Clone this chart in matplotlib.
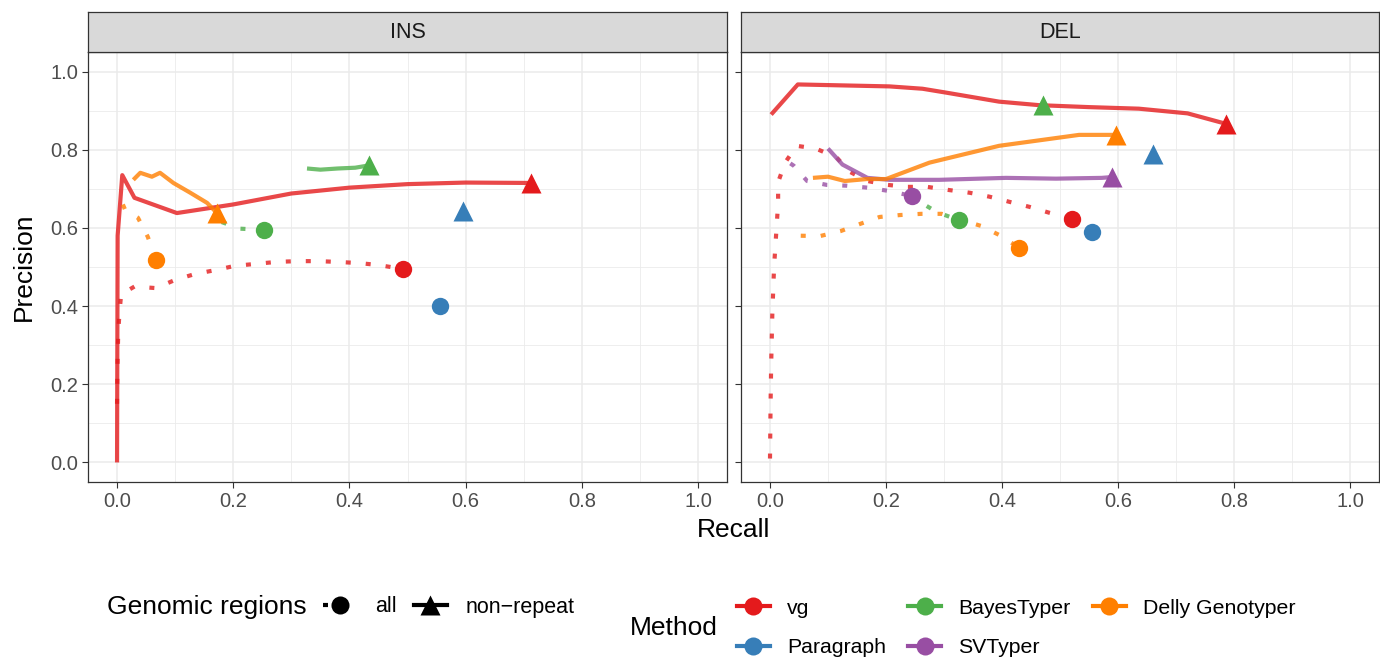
import numpy as np
import matplotlib
matplotlib.use('Agg')
import matplotlib.pyplot as plt
from matplotlib.lines import Line2D

plt.rcParams['font.family'] = ['Liberation Sans', 'DejaVu Sans']

# colours (Set1)
methods = ['vg', 'Paragraph', 'BayesTyper', 'SVTyper', 'Delly Genotyper']
colors = ['#E41A1C', '#377EB8', '#4DAF4A', '#984EA3', '#FF7F00']

# ---- INS panel ----
ins_vg_all_x = [0.0, 0.0005, 0.001, 0.002, 0.004, 0.007, 0.03, 0.067, 0.1, 0.134, 0.169, 0.203, 0.239, 0.274, 0.31, 0.346, 0.38, 0.417, 0.45, 0.492]
ins_vg_all_y = [0.15, 0.22, 0.27, 0.33, 0.38, 0.43, 0.45, 0.446, 0.467, 0.482, 0.492, 0.503, 0.508, 0.513, 0.515, 0.515, 0.513, 0.51, 0.505, 0.495]
ins_vg_nr_x = [0.0, 0.0005, 0.001, 0.009, 0.03, 0.103, 0.2, 0.3, 0.4, 0.5, 0.6, 0.712]
ins_vg_nr_y = [0.0, 0.3, 0.58, 0.735, 0.677, 0.638, 0.66, 0.688, 0.703, 0.712, 0.716, 0.715]
ins_para_all_x = [0.556]
ins_para_all_y = [0.40]
ins_para_nr_x = [0.595]
ins_para_nr_y = [0.642]
ins_bt_all_x = [0.18, 0.212, 0.253]
ins_bt_all_y = [0.615, 0.598, 0.595]
ins_bt_nr_x = [0.327, 0.35, 0.38, 0.41, 0.434]
ins_bt_nr_y = [0.752, 0.749, 0.752, 0.754, 0.76]
ins_delly_all_x = [0.01, 0.014, 0.036, 0.053, 0.067]
ins_delly_all_y = [0.66, 0.646, 0.626, 0.577, 0.518]
ins_delly_nr_x = [0.028, 0.04, 0.06, 0.074, 0.097, 0.126, 0.155, 0.172]
ins_delly_nr_y = [0.723, 0.741, 0.731, 0.741, 0.715, 0.69, 0.664, 0.638]

# ---- DEL panel ----
del_vg_all_x = [0.0, 0.001, 0.002, 0.004, 0.007, 0.014, 0.014, 0.026, 0.046, 0.079, 0.115, 0.137, 0.168, 0.203, 0.237, 0.271, 0.308, 0.344, 0.378, 0.412, 0.447, 0.481, 0.521]
del_vg_all_y = [0.01, 0.15, 0.25, 0.38, 0.5, 0.664, 0.717, 0.767, 0.81, 0.803, 0.78, 0.744, 0.72, 0.71, 0.705, 0.705, 0.697, 0.69, 0.68, 0.667, 0.654, 0.639, 0.623]
del_vg_nr_x = [0.002, 0.048, 0.206, 0.263, 0.304, 0.395, 0.464, 0.55, 0.636, 0.72, 0.787]
del_vg_nr_y = [0.89, 0.967, 0.962, 0.956, 0.946, 0.923, 0.914, 0.909, 0.905, 0.893, 0.866]
del_para_all_x = [0.555]
del_para_all_y = [0.59]
del_para_nr_x = [0.66]
del_para_nr_y = [0.79]
del_bt_all_x = [0.245, 0.258, 0.287, 0.325]
del_bt_all_y = [0.69, 0.667, 0.641, 0.62]
del_bt_nr_x = [0.471]
del_bt_nr_y = [0.915]
del_sv_all_x = [0.035, 0.041, 0.064, 0.098, 0.132, 0.168, 0.203, 0.244]
del_sv_all_y = [0.765, 0.759, 0.72, 0.71, 0.708, 0.703, 0.695, 0.682]
del_sv_nr_x = [0.1, 0.125, 0.168, 0.206, 0.292, 0.407, 0.493, 0.572, 0.589]
del_sv_nr_y = [0.803, 0.762, 0.728, 0.723, 0.723, 0.728, 0.726, 0.728, 0.73]
del_delly_all_x = [0.053, 0.086, 0.122, 0.155, 0.189, 0.225, 0.261, 0.296, 0.364, 0.395, 0.43]
del_delly_all_y = [0.58, 0.579, 0.592, 0.61, 0.628, 0.633, 0.636, 0.636, 0.605, 0.582, 0.549]
del_delly_nr_x = [0.074, 0.1, 0.129, 0.167, 0.2, 0.275, 0.395, 0.533, 0.584, 0.596]
del_delly_nr_y = [0.728, 0.731, 0.72, 0.725, 0.725, 0.767, 0.81, 0.838, 0.838, 0.838]

ins_series = [
    ('vg', ins_vg_all_x, ins_vg_all_y, ins_vg_nr_x, ins_vg_nr_y),
    ('Paragraph', ins_para_all_x, ins_para_all_y, ins_para_nr_x, ins_para_nr_y),
    ('BayesTyper', ins_bt_all_x, ins_bt_all_y, ins_bt_nr_x, ins_bt_nr_y),
    ('Delly Genotyper', ins_delly_all_x, ins_delly_all_y, ins_delly_nr_x, ins_delly_nr_y),
]
del_series = [
    ('vg', del_vg_all_x, del_vg_all_y, del_vg_nr_x, del_vg_nr_y),
    ('Paragraph', del_para_all_x, del_para_all_y, del_para_nr_x, del_para_nr_y),
    ('BayesTyper', del_bt_all_x, del_bt_all_y, del_bt_nr_x, del_bt_nr_y),
    ('SVTyper', del_sv_all_x, del_sv_all_y, del_sv_nr_x, del_sv_nr_y),
    ('Delly Genotyper', del_delly_all_x, del_delly_all_y, del_delly_nr_x, del_delly_nr_y),
]

dotted = (0, (1.2, 3.6))
lw = 3.0

fig = plt.figure(figsize=(13.8, 6.64), dpi=100)
ax1 = fig.add_axes([88/1380, 1-482/664, 639/1380, 430/664])
ax2 = fig.add_axes([741/1380, 1-482/664, 638/1380, 430/664])

for ax, series, title in [(ax1, ins_series, 'INS'), (ax2, del_series, 'DEL')]:
    ax.set_xlim(-0.05, 1.05)
    ax.set_ylim(-0.05, 1.05)
    ax.set_xticks(np.arange(0, 1.01, 0.2))
    ax.set_yticks(np.arange(0, 1.01, 0.2))
    ax.set_xticks(np.arange(0.1, 1.0, 0.2), minor=True)
    ax.set_yticks(np.arange(0.1, 1.0, 0.2), minor=True)
    ax.grid(which='major', color='#EBEBEB', lw=1.1, zorder=0)
    ax.grid(which='minor', color='#EBEBEB', lw=0.6, zorder=0)
    ax.set_axisbelow(True)
    ax.tick_params(which='minor', length=0)
    ax.tick_params(which='major', length=4, color='#333333', labelsize=14.5,
                   labelcolor='#4D4D4D', pad=3)
    for s in ax.spines.values():
        s.set_color('#333333')
        s.set_linewidth(0.9)
    if ax is ax2:
        ax.set_yticklabels([])
    for name, ax_x, ax_y, nr_x, nr_y in series:
        c = colors[methods.index(name)]
        if len(ax_x) > 1:
            ax.plot(ax_x, ax_y, color=c, alpha=0.8, lw=lw, ls=dotted, dash_capstyle='butt', zorder=2)
        if len(nr_x) > 1:
            ax.plot(nr_x, nr_y, color=c, alpha=0.8, lw=lw, ls='-', solid_capstyle='butt', zorder=2)
        ax.plot(ax_x[-1], ax_y[-1], 'o', color=c, ms=12.5, mec='none', zorder=3)
        ax.plot(nr_x[-1], nr_y[-1], '^', color=c, ms=14, mec='none', zorder=3)
    # strip
    pos = ax.get_position()
    sax = fig.add_axes([pos.x0, 1-52/664, pos.width, 40/664])
    sax.set_facecolor('#D9D9D9')
    sax.set_xticks([])
    sax.set_yticks([])
    for s in sax.spines.values():
        s.set_color('#333333')
        s.set_linewidth(0.9)
    sax.text(0.5, 0.5, title, ha='center', va='center', fontsize=15.5, color='#1A1A1A')

ax1.set_ylabel('Precision', fontsize=19)
ax1.yaxis.set_label_coords((36-88)/639, 0.5)
fig.text(734/1380, 1-530/664, 'Recall', ha='center', va='center', fontsize=19)

# legend: Genomic regions
fig.text(107/1380, 1-607/664, 'Genomic regions', ha='left', va='center', fontsize=19)
reg_handles = [
    Line2D([], [], color='black', lw=lw, ls=dotted, marker='o', ms=13, mec='none'),
    Line2D([], [], color='black', lw=lw, ls='-', marker='^', ms=15, mec='none'),
]
fig.legend(reg_handles, ['all', 'non\u2212repeat'], loc='center left',
           bbox_to_anchor=(323/1380, 1-607/664), ncol=2, frameon=False,
           fontsize=15.5, handlelength=1.55, handletextpad=0.85, columnspacing=0.8,
           borderpad=0, borderaxespad=0)

# legend: Method
fig.text(630/1380, 1-628/664, 'Method', ha='left', va='center', fontsize=19)
meth_handles = [Line2D([], [], color=c, lw=lw, marker='o', ms=13, mec='none') for c in colors]
fig.legend(meth_handles, methods, loc='center left',
           bbox_to_anchor=(737/1380, 1-628/664), ncol=3, frameon=False,
           fontsize=15.3, handlelength=1.55, handletextpad=0.8, columnspacing=1.05,
           labelspacing=0.95, borderpad=0, borderaxespad=0)

plt.savefig('out.png', dpi=100)
